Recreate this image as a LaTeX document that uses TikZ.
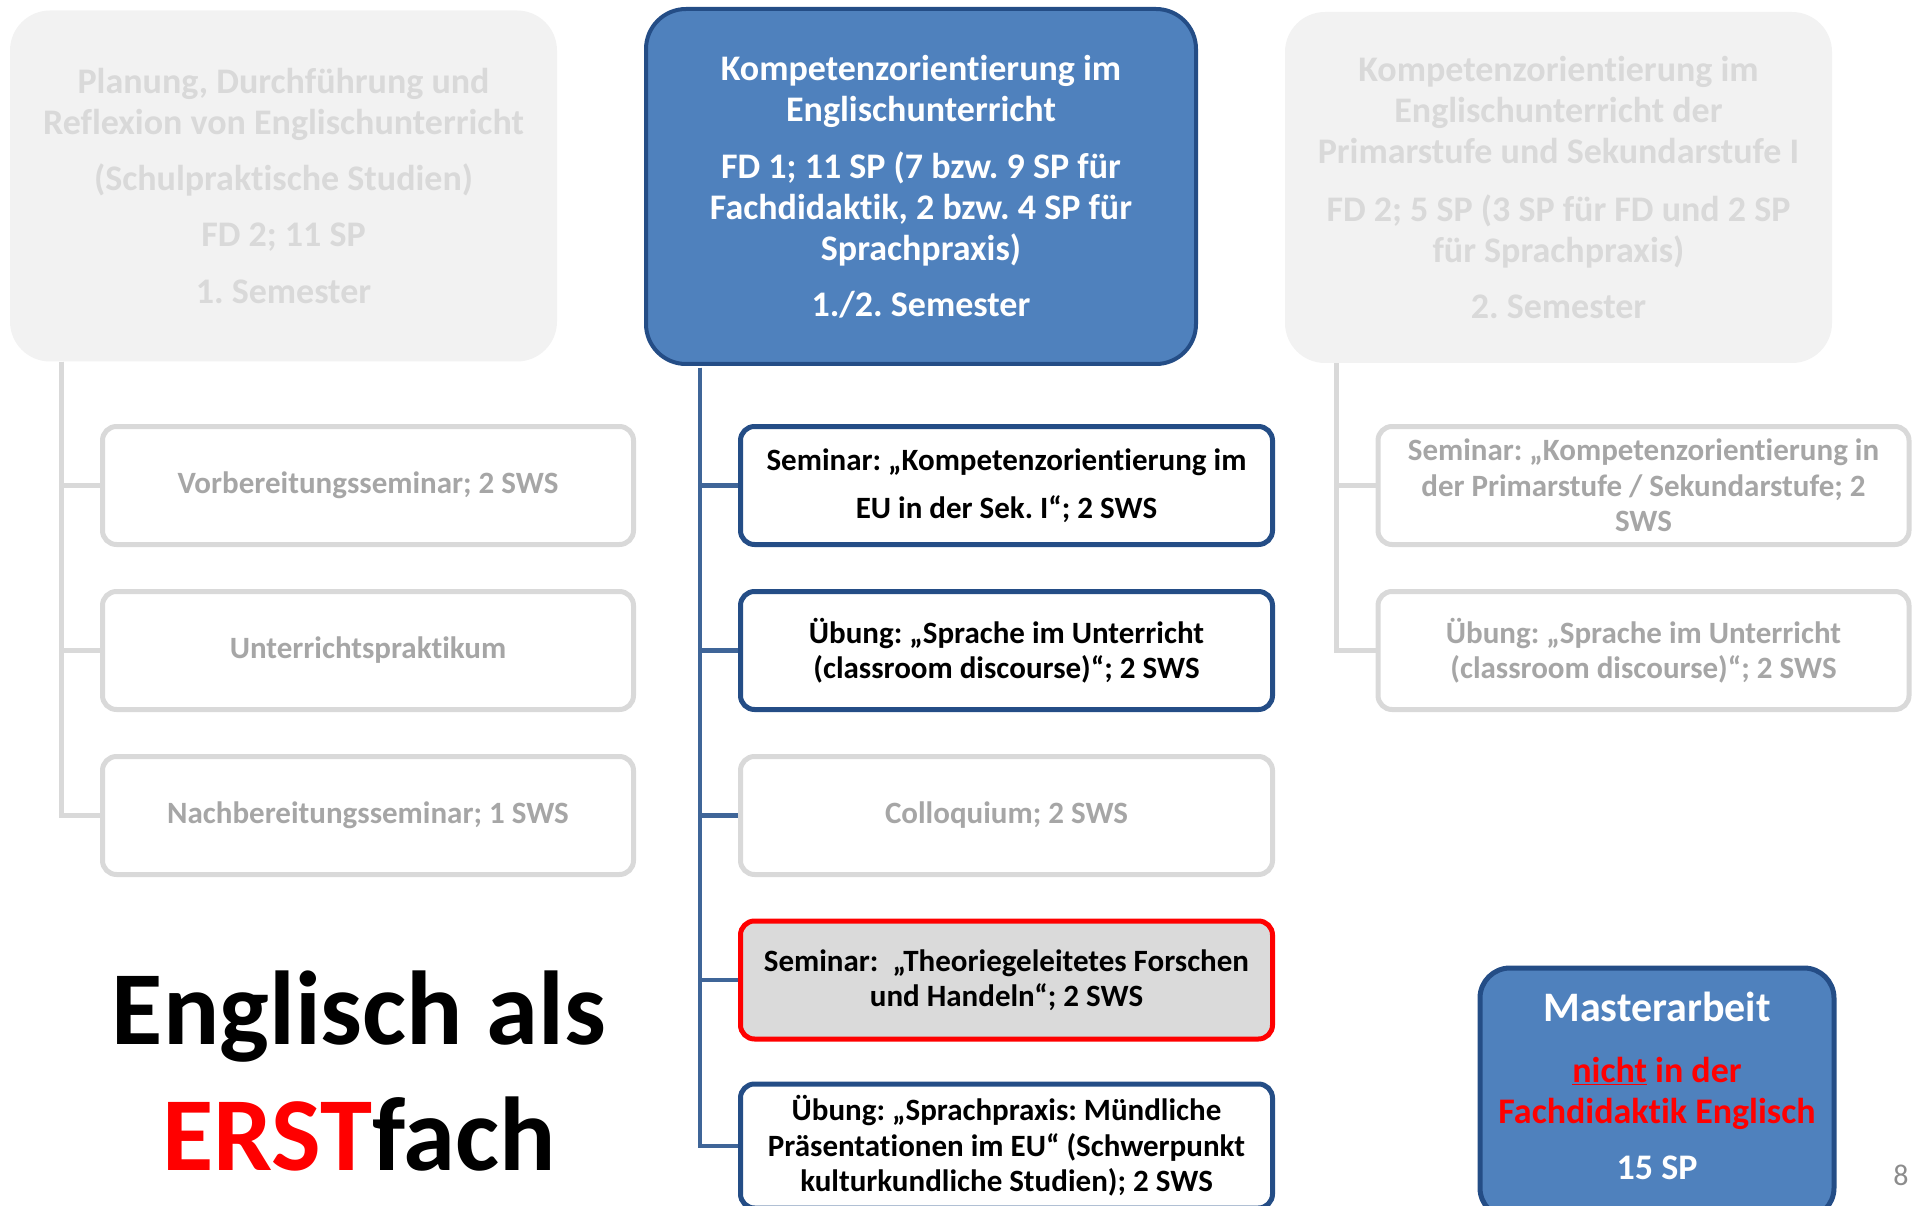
\documentclass[tikz,border=0pt]{standalone}
\usepackage{fontspec}
\setmainfont{Carlito}[Ligatures={NoCommon}]
\frenchspacing
\definecolor{greyfill}{HTML}{F2F2F2}
\definecolor{greytext}{HTML}{D9D9D9}
\definecolor{greyline}{HTML}{D9D9D9}
\definecolor{childgrey}{HTML}{A6A6A6}
\definecolor{blueF}{HTML}{4F81BD}
\definecolor{blueD}{HTML}{244D86}
\definecolor{blueS}{HTML}{3F6598}
\definecolor{redbox}{HTML}{DADADA}
\definecolor{pagegrey}{HTML}{8C8C8C}
\newcommand\topfont{\fontsize{36}{41}\selectfont\bfseries}
\newcommand\childfont{\fontsize{31}{35.5}\selectfont\bfseries}
\begin{document}
\begin{tikzpicture}[x=1pt,y=-1pt,
  topgrey/.style={fill=greyfill, rounded corners=40pt, text=greytext, font=\topfont,
    align=center, inner sep=0pt, minimum width=547pt, minimum height=351pt},
  topblue/.style={draw=blueD, line width=4pt, fill=blueF, rounded corners=40pt, text=white,
    font=\topfont, align=center, inner sep=0pt, minimum width=550pt, minimum height=355pt},
  greychild/.style={draw=greyline, line width=5pt, fill=white, rounded corners=14pt,
    text=childgrey, font=\childfont, align=center, inner sep=0pt,
    minimum width=531pt, minimum height=118pt},
  bluechild/.style={draw=blueD, line width=5pt, fill=white, rounded corners=14pt,
    text=black, font=\childfont, align=center, inner sep=0pt,
    minimum width=532pt, minimum height=118pt},
  redchild/.style={bluechild, draw=red, fill=redbox},
  greyspine/.style={draw=greyline, line width=5pt},
  bluespine/.style={draw=blueS, line width=4.5pt},
  masterbox/.style={draw=blueD, line width=5pt, fill=blueF, rounded corners=30pt,
    inner sep=0pt, minimum width=354pt, minimum height=250pt},
  mastertext/.style={text=white, font=\topfont, align=center, inner sep=0pt},
  bigtext/.style={font=\fontsize{105}{126}\selectfont\bfseries, anchor=base, inner sep=0pt}
]
\useasboundingbox (0,0) rectangle (1915,1206);

% top boxes
\node[topgrey] (ltop) at (283.5,186) {Planung, Durchführung und\\Reflexion von Englischunterricht\\[15pt](Schulpraktische Studien)\\[15pt]FD 2; 11 SP\\[16pt]1. Semester};
\node[topblue] (ctop) at (921,186.5) {Kompetenzorientierung im\\Englischunterricht\\[16pt]FD 1; 11 SP (7 bzw. 9 SP für\\Fachdidaktik, 2 bzw. 4 SP für\\Sprachpraxis)\\[15pt]1./2. Semester};
\node[topgrey] (rtop) at (1558.5,187.5) {Kompetenzorientierung im\\Englischunterricht der\\Primarstufe und Sekundarstufe I\\[17pt]FD 2; 5 SP (3 SP für FD und 2 SP\\für Sprachpraxis)\\[15pt]2. Semester};

% spine anchors
\coordinate (ls) at ([xshift=52pt]ltop.south west);
\coordinate (cs) at ([xshift=56pt,yshift=-2pt]ctop.south west);
\coordinate (rs) at ([xshift=52pt]rtop.south west);

% left children
\node[greychild] (l1) at (368,485.5) {Vorbereitungsseminar; 2 SWS};
\node[greychild] (l2) at (368,650.5) {Unterrichtspraktikum};
\node[greychild] (l3) at (368,815.5) {Nachbereitungsseminar; 1 SWS};

% centre children
\node[bluechild] (c1) at (1006.5,485.5) {Seminar: „Kompetenzorientierung im\\[12pt]EU in der Sek. I“; 2 SWS};
\node[bluechild] (c2) at (1006.5,650.5) {Übung: „Sprache im Unterricht\\(classroom discourse)“; 2 SWS};
\node[greychild, minimum width=532pt] (c3) at (1006.5,815.5) {Colloquium; 2 SWS};
\node[redchild] (c4) at (1006.5,980) {Seminar:\ \ „Theoriegeleitetes Forschen\\und Handeln“; 2 SWS};
\node[bluechild, minimum height=124pt] (c5) at (1006.5,1146) {Übung: „Sprachpraxis: Mündliche\\Präsentationen im EU“ (Schwerpunkt\\kulturkundliche Studien); 2 SWS};

% right children
\node[greychild] (r1) at (1643.5,485.5) {Seminar: „Kompetenzorientierung in\\der Primarstufe / Sekundarstufe; 2\\SWS};
\node[greychild] (r2) at (1643.5,650.5) {Übung: „Sprache im Unterricht\\(classroom discourse)“; 2 SWS};

% connectors
\draw[greyspine] (ls) |- (l1.west);
\draw[greyspine] (ls) |- (l2.west);
\draw[greyspine] (ls) |- (l3.west);
\draw[bluespine] (cs) |- (c1.west);
\draw[bluespine] (cs) |- (c2.west);
\draw[bluespine] (cs) |- (c3.west);
\draw[bluespine] (cs) |- (c4.west);
\draw[bluespine] (cs) |- (c5.west);
\draw[greyspine] (rs) |- (r1.west);
\draw[greyspine] (rs) |- (r2.west);

% Masterarbeit
\node[masterbox] (master) at (1657,1093) {};
\node[mastertext] (mtext) at (1657,1086) {{\fontsize{42}{41}\selectfont Masterarbeit}\\[20pt]\textcolor{red}{\underline{nicht} in der}\\\textcolor{red}{Fachdidaktik Englisch}\\[15pt]15 SP};

% big title
\node[bigtext] (big1) at (359,1044) {Englisch als};
\node[bigtext] (big2) at (359,1170) {\textcolor{red}{ERST}fach};

% page number
\node[font=\fontsize{30}{34}\selectfont, text=pagegrey, anchor=base, inner sep=0pt] (pnum) at (1901,1185) {8};
\end{tikzpicture}
\end{document}
